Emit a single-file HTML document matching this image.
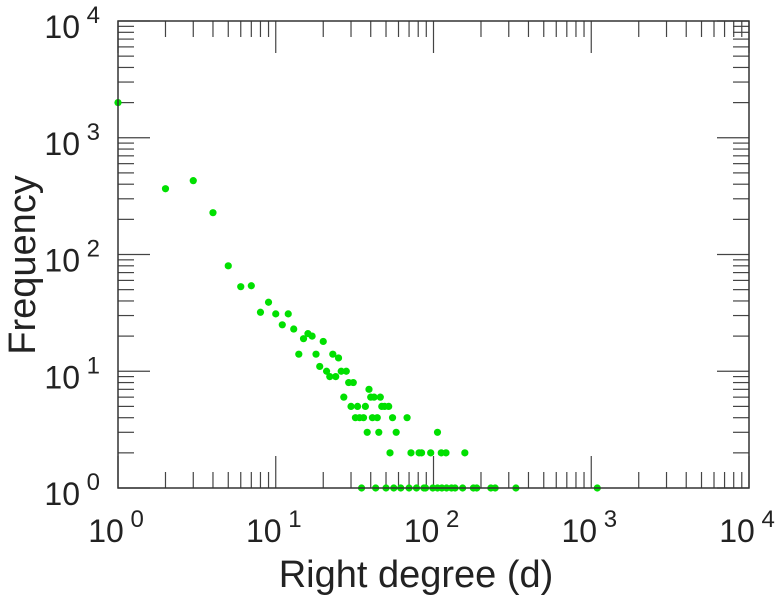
<!DOCTYPE html>
<html><head><meta charset="utf-8"><style>
html,body{margin:0;padding:0;background:#fff;}
svg{display:block;font-family:"Liberation Sans",Arial,sans-serif;}
</style></head><body>
<svg id="chart" width="779" height="600" viewBox="0 0 779 600">
<rect x="0" y="0" width="779" height="600" fill="#fff"/>
<g id="ticks"></g>
<g id="labels"></g>
<g id="points"></g>
<rect x="118" y="21" width="631" height="467" fill="none" stroke="#333" stroke-width="1.5"/>
<text x="416" y="587" font-size="38" text-anchor="middle" fill="#222">Right degree (d)</text>
<text transform="translate(35,265) rotate(-90)" font-size="38" text-anchor="middle" fill="#222">Frequency</text>
</svg>
<script>
const degrees = [1,2,3,4,5,6,7,8,9,10,11,12,13,14,15,16,17,18,19,20,21,22,23,24,25,26,28,29,31,
 39,27,40,42,46,30,33,37,47,49,52,32,34,36,41,44,55,68,38,45,58,106,53,72,81,84,96,112,120,158,
 35,43,50,56,62,70,78,87,89,99,106,113,121,130,137,153,179,188,231,246,333,1092];
const freqs = [2000,366,429,228,80,53,54,32,39,31,25,31,23,14,19,21,20,14,11,18,10,9,14,9,13,10,10,8,8,
 7,6,6,6,6,5,5,5,5,5,5,4,4,4,4,4,4,4,3,3,3,3,2,2,2,2,2,2,2,2,
 1,1,1,1,1,1,1,1,1,1,1,1,1,1,1,1,1,1,1,1,1,1];
const xDecades = [0,1,2,3,4];
const yDecades = [0,1,2,3,4];
const X0=118,X1=749,Y0=488,Y1=21;
function sx(v){return X0+(Math.log10(v)-0)/4*(X1-X0);}
function sy(v){return Y0-(Math.log10(v)-0)/4*(Y0-Y1);}
const NS='http://www.w3.org/2000/svg';
const tk=document.getElementById('ticks');
function line(x1,y1,x2,y2){const l=document.createElementNS(NS,'line');l.setAttribute('x1',x1);l.setAttribute('y1',y1);l.setAttribute('x2',x2);l.setAttribute('y2',y2);l.setAttribute('stroke','#444');l.setAttribute('stroke-width','1.2');


tk.appendChild(l);}
for(let d=0;d<4;d++){for(let m=1;m<10;m++){const v=Math.pow(10,d)*m;const len=m===1?32:16;
 const x=sx(v);if(m>1){line(x,Y0,x,Y0-len);line(x,Y1,x,Y1+len);}
 const y=sy(v);if(m>1){line(X0,y,X0+len,y);line(X1,y,X1-len,y);}}}
for(const d of xDecades){const x=sx(Math.pow(10,d));line(x,Y0,x,Y0-32);line(x,Y1,x,Y1+32);}
for(const d of yDecades){const y=sy(Math.pow(10,d));line(X0,y,X0+32,y);line(X1,y,X1-32,y);}
const lb=document.getElementById('labels');
function lab(xEnd10,baseY,exp,anchorCenter){const t=document.createElementNS(NS,'text');t.setAttribute('fill','#222');t.setAttribute('font-size','32');
 const a=document.createElementNS(NS,'tspan');a.textContent='10';
 const b=document.createElementNS(NS,'tspan');b.textContent=' '+exp;b.setAttribute('font-size','24');b.setAttribute('dy','-15');
 t.appendChild(a);t.appendChild(b);t.setAttribute('y',baseY);
 t.setAttribute('x',xEnd10);t.setAttribute('text-anchor',anchorCenter);
 
 
 lb.appendChild(t);}
for(const d of xDecades){lab(sx(Math.pow(10,d))-2,542,d,'middle');}
for(const d of yDecades){lab(100,sy(Math.pow(10,d))+17,d,'end');}
const pg=document.getElementById('points');
for(let i=0;i<degrees.length;i++){const c=document.createElementNS(NS,'circle');
 c.setAttribute('cx',sx(degrees[i]));c.setAttribute('cy',sy(freqs[i]));c.setAttribute('r','3.6');c.setAttribute('fill','#00e000');
 
 
 pg.appendChild(c);}
</script>
</body></html>
